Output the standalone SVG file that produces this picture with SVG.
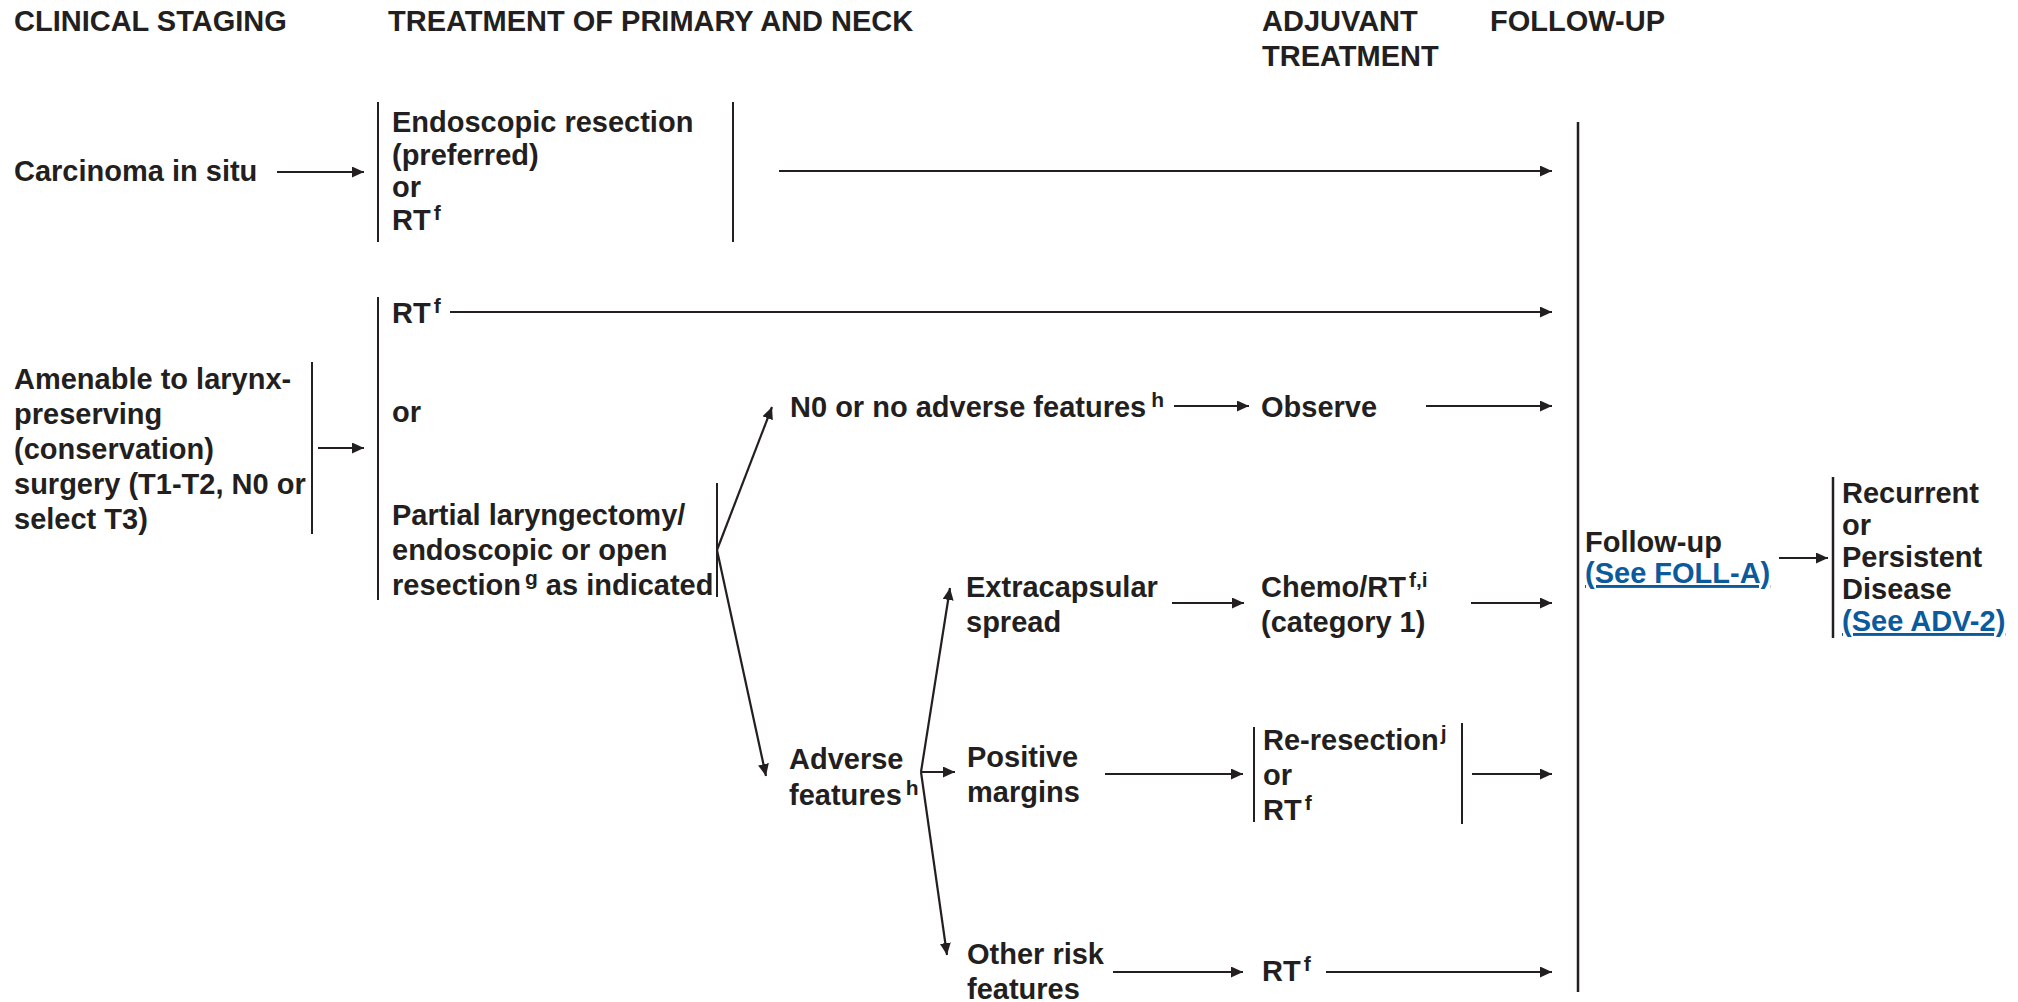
<svg xmlns="http://www.w3.org/2000/svg" width="2018" height="1002" viewBox="0 0 2018 1002">
  <defs>
    <marker id="ah" viewBox="0 0 12 11" refX="12" refY="5.5" markerWidth="12" markerHeight="11" markerUnits="userSpaceOnUse" orient="auto">
      <path d="M0,0 L12,5.5 L0,11 z" fill="#231f20"/>
    </marker>
    <style>
      text { font-family: "Liberation Sans", Arial, Helvetica, sans-serif; font-weight: bold; font-size: 29px; fill: #231f20; }
      .sup { font-size: 21px; }
      .link { fill: #0b5a9c; text-decoration: underline; }
      .bar { stroke: #231f20; stroke-width: 2; fill: none; }
      .bar-thick { stroke: #231f20; stroke-width: 2.5; fill: none; }
      #connectors line { stroke: #231f20; stroke-width: 2.2; fill: none; marker-end: url(#ah); }
    </style>
  </defs>
  <rect width="2018" height="1002" fill="#ffffff"/>

  <!-- column headings -->
  <g id="headings">
    <text x="14" y="31">CLINICAL STAGING</text>
    <text x="388" y="31">TREATMENT OF PRIMARY AND NECK</text>
    <text x="1262" y="31">ADJUVANT</text>
    <text x="1262" y="66">TREATMENT</text>
    <text x="1490" y="31">FOLLOW-UP</text>
  </g>

  <!-- clinical staging -->
  <g id="carcinoma-in-situ">
    <text x="14" y="181">Carcinoma in situ</text>
  </g>
  <g id="amenable">
    <text x="14" y="389">Amenable to larynx-</text>
    <text x="14" y="424">preserving</text>
    <text x="14" y="459">(conservation)</text>
    <text x="14" y="494">surgery (T1-T2, N0 or</text>
    <text x="14" y="529">select T3)</text>
    <line class="bar" x1="312" y1="362" x2="312" y2="534"/>
  </g>

  <!-- primary treatment -->
  <g id="cis-treatment">
    <line class="bar" x1="378" y1="102" x2="378" y2="242"/>
    <line class="bar" x1="733" y1="102" x2="733" y2="242"/>
    <text x="392" y="132">Endoscopic resection</text>
    <text x="392" y="164.5">(preferred)</text>
    <text x="392" y="197">or</text>
    <text x="392" y="229.5">RT<tspan class="sup" dx="3" dy="-10">f</tspan></text>
  </g>
  <g id="primary-treatment">
    <line class="bar" x1="378" y1="297" x2="378" y2="600"/>
    <text x="392" y="323">RT<tspan class="sup" dx="3" dy="-10">f</tspan></text>
    <text x="392" y="422">or</text>
    <text x="392" y="525">Partial laryngectomy/</text>
    <text x="392" y="560">endoscopic or open</text>
    <text x="392" y="595">resection<tspan class="sup" dx="4" dy="-10">g</tspan><tspan dy="10"> as indicated</tspan></text>
    <line class="bar" x1="717" y1="483" x2="717" y2="597"/>
  </g>

  <!-- pathology findings -->
  <g id="n0">
    <text x="790" y="417">N0 or no adverse features<tspan class="sup" dx="5" dy="-10">h</tspan></text>
  </g>
  <g id="adverse">
    <text x="789" y="769">Adverse</text>
    <text x="789" y="805">features<tspan class="sup" dx="4" dy="-10">h</tspan></text>
  </g>
  <g id="extracapsular">
    <text x="966" y="597">Extracapsular</text>
    <text x="966" y="632">spread</text>
  </g>
  <g id="positive-margins">
    <text x="967" y="767">Positive</text>
    <text x="967" y="802">margins</text>
  </g>
  <g id="other-risk">
    <text x="967" y="964">Other risk</text>
    <text x="967" y="999">features</text>
  </g>

  <!-- adjuvant treatment -->
  <g id="observe">
    <text x="1261" y="417">Observe</text>
  </g>
  <g id="chemo-rt">
    <text x="1261" y="597">Chemo/RT<tspan class="sup" dx="3" dy="-10">f,i</tspan></text>
    <text x="1261" y="632">(category 1)</text>
  </g>
  <g id="re-resection">
    <line class="bar" x1="1254" y1="727" x2="1254" y2="822"/>
    <line class="bar" x1="1462" y1="723" x2="1462" y2="824"/>
    <text x="1263" y="750">Re-resection<tspan class="sup" dx="2" dy="-10">j</tspan></text>
    <text x="1263" y="785">or</text>
    <text x="1263" y="820">RT<tspan class="sup" dx="3" dy="-10">f</tspan></text>
  </g>
  <g id="rt-adjuvant">
    <text x="1262" y="981">RT<tspan class="sup" dx="3" dy="-10">f</tspan></text>
  </g>

  <!-- follow-up -->
  <g id="follow-up">
    <line class="bar-thick" x1="1578" y1="122" x2="1578" y2="992"/>
    <text x="1585" y="552">Follow-up</text>
    <text x="1585" y="583" class="link">(See FOLL-A)</text>
  </g>
  <g id="recurrent">
    <line class="bar-thick" x1="1833" y1="477" x2="1833" y2="638"/>
    <text x="1842" y="503">Recurrent</text>
    <text x="1842" y="535">or</text>
    <text x="1842" y="567">Persistent</text>
    <text x="1842" y="599">Disease</text>
    <text x="1842" y="631" class="link">(See ADV-2)</text>
  </g>

  <!-- connectors -->
  <g id="connectors">
    <line x1="277" y1="172" x2="364" y2="172"/>
    <line x1="779" y1="171" x2="1552" y2="171"/>
    <line x1="450" y1="312" x2="1552" y2="312"/>
    <line x1="318" y1="448" x2="364" y2="448"/>
    <line x1="717" y1="550" x2="772" y2="407"/>
    <line x1="717" y1="550" x2="766" y2="776"/>
    <line x1="1174" y1="406" x2="1249" y2="406"/>
    <line x1="1426" y1="406" x2="1552" y2="406"/>
    <line x1="921" y1="772" x2="950" y2="588"/>
    <line x1="921" y1="772" x2="955" y2="772"/>
    <line x1="921" y1="772" x2="947" y2="955"/>
    <line x1="1172" y1="603" x2="1244" y2="603"/>
    <line x1="1471" y1="603" x2="1552" y2="603"/>
    <line x1="1105" y1="774" x2="1243" y2="774"/>
    <line x1="1472" y1="774" x2="1552" y2="774"/>
    <line x1="1113" y1="972" x2="1243" y2="972"/>
    <line x1="1326" y1="972" x2="1552" y2="972"/>
    <line x1="1779" y1="558" x2="1828" y2="558"/>
  </g>
</svg>
